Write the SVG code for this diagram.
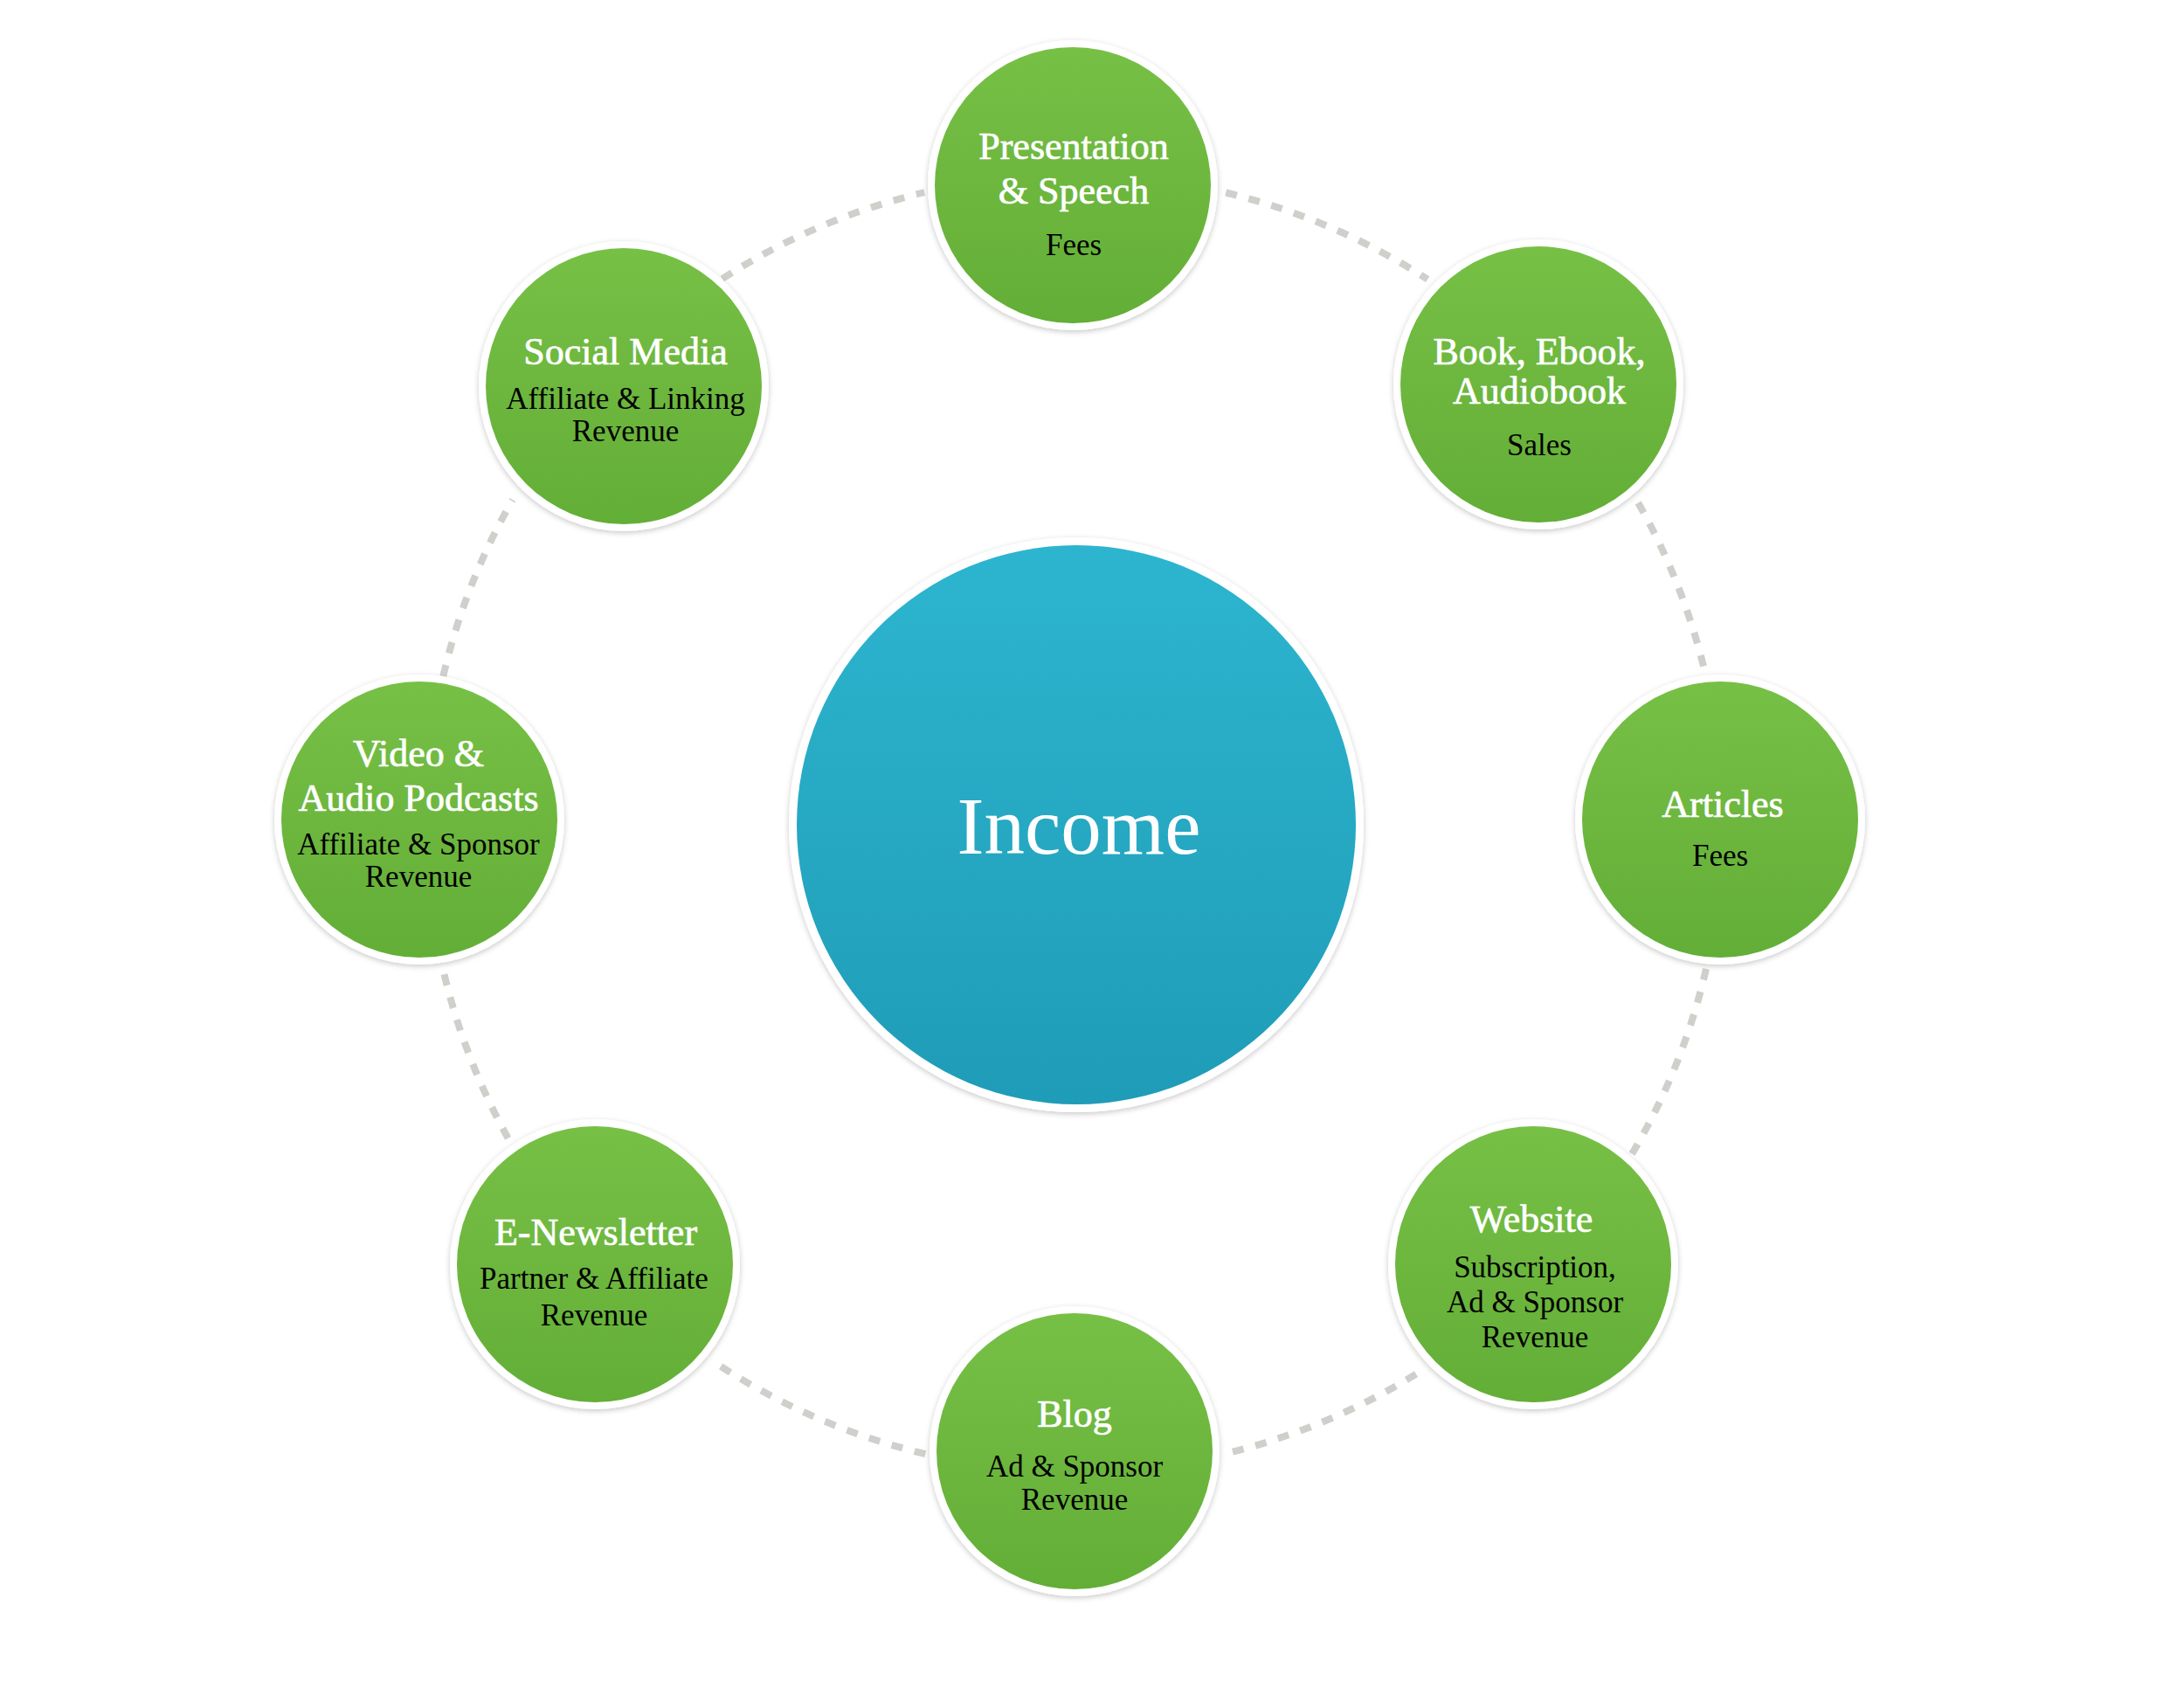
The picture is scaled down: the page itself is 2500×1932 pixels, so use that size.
<svg xmlns="http://www.w3.org/2000/svg" width="2500" height="1932" viewBox="0 0 2500 1932">
<defs>
<linearGradient id="gGreen" x1="0" y1="0" x2="0" y2="1">
<stop offset="0" stop-color="#77c046"/>
<stop offset="1" stop-color="#63ae37"/>
</linearGradient>
<linearGradient id="gBlue" x1="0" y1="0" x2="0" y2="1">
<stop offset="0" stop-color="#2db5cf"/>
<stop offset="1" stop-color="#1f9cb7"/>
</linearGradient>
<filter id="shadow" x="-10%" y="-10%" width="120%" height="120%">
<feDropShadow dx="0" dy="2" stdDeviation="3" flood-color="#000" flood-opacity="0.22"/>
</filter>
<style>
.ring{fill:#ffffff;filter:url(#shadow);}
.green{fill:url(#gGreen);}
.blue{fill:url(#gBlue);}
.title{font-family:"Liberation Serif","Times New Roman",serif;font-size:44px;fill:#ffffff;stroke:#ffffff;stroke-width:0.7;text-anchor:middle;}
.sub{font-family:"Liberation Serif","Times New Roman",serif;font-size:35px;fill:#000000;text-anchor:middle;}
.big{font-family:"Liberation Serif","Times New Roman",serif;font-size:93px;fill:#ffffff;text-anchor:middle;}
.dash{fill:none;stroke:#cfcfcb;stroke-width:8;stroke-dasharray:13 14;}
</style>
</defs>
<rect width="2500" height="1932" fill="#ffffff"/>
<g id="connectors">
<path class="dash" d="M1403.2,220.5 A742,742 0 0 1 1634.1,319.7"/>
<path class="dash" d="M1875.2,575.5 A742,742 0 0 1 1953.0,775.1"/>
<path class="dash" d="M1953.0,1108.9 A742,742 0 0 1 1866.7,1323.0"/>
<path class="dash" d="M1621.0,1572.6 A742,742 0 0 1 1398.2,1664.7"/>
<path class="dash" d="M1059.3,1664.1 A742,742 0 0 1 816.2,1557.9"/>
<path class="dash" d="M581.6,1302.8 A742,742 0 0 1 505.3,1101.3"/>
<path class="dash" d="M507.3,773.8 A742,742 0 0 1 586.8,572.1"/>
<path class="dash" d="M826.9,319.0 A742,742 0 0 1 1058.1,220.2"/>
</g>
<g id="income">
<circle class="ring" cx="1232" cy="944" r="329"/>
<circle class="blue" cx="1232" cy="944" r="320"/>
<text class="big" x="1235" y="977">Income</text>
</g>
<g id="presentation">
<circle class="ring" cx="1228" cy="212" r="166"/>
<circle class="green" cx="1228" cy="212" r="158"/>
<text class="title" x="1229" y="182">Presentation</text>
<text class="title" x="1229" y="233">&amp; Speech</text>
<text class="sub" x="1229" y="292">Fees</text>
</g>
<g id="book">
<circle class="ring" cx="1761" cy="440" r="166"/>
<circle class="green" cx="1761" cy="440" r="158"/>
<text class="title" x="1762" y="417">Book, Ebook,</text>
<text class="title" x="1762" y="462">Audiobook</text>
<text class="sub" x="1762" y="521">Sales</text>
</g>
<g id="articles">
<circle class="ring" cx="1969" cy="938" r="166"/>
<circle class="green" cx="1969" cy="938" r="158"/>
<text class="title" x="1972" y="935">Articles</text>
<text class="sub" x="1969" y="991">Fees</text>
</g>
<g id="website">
<circle class="ring" cx="1755" cy="1447" r="166"/>
<circle class="green" cx="1755" cy="1447" r="158"/>
<text class="title" x="1753" y="1410">Website</text>
<text class="sub" x="1757" y="1462">Subscription,</text>
<text class="sub" x="1757" y="1502">Ad &amp; Sponsor</text>
<text class="sub" x="1757" y="1542">Revenue</text>
</g>
<g id="blog">
<circle class="ring" cx="1230" cy="1661" r="166"/>
<circle class="green" cx="1230" cy="1661" r="158"/>
<text class="title" x="1230" y="1633">Blog</text>
<text class="sub" x="1230" y="1690">Ad &amp; Sponsor</text>
<text class="sub" x="1230" y="1728">Revenue</text>
</g>
<g id="enewsletter">
<circle class="ring" cx="681" cy="1447" r="166"/>
<circle class="green" cx="681" cy="1447" r="158"/>
<text class="title" x="682" y="1425">E-Newsletter</text>
<text class="sub" x="680" y="1475">Partner &amp; Affiliate</text>
<text class="sub" x="680" y="1517">Revenue</text>
</g>
<g id="video">
<circle class="ring" cx="480" cy="938" r="166"/>
<circle class="green" cx="480" cy="938" r="158"/>
<text class="title" x="479" y="877">Video &amp;</text>
<text class="title" x="479" y="928">Audio Podcasts</text>
<text class="sub" x="479" y="978">Affiliate &amp; Sponsor</text>
<text class="sub" x="479" y="1015">Revenue</text>
</g>
<g id="social">
<circle class="ring" cx="714" cy="442" r="166"/>
<circle class="green" cx="714" cy="442" r="158"/>
<text class="title" x="716" y="417">Social Media</text>
<text class="sub" x="716" y="468">Affiliate &amp; Linking</text>
<text class="sub" x="716" y="505">Revenue</text>
</g>
</svg>
